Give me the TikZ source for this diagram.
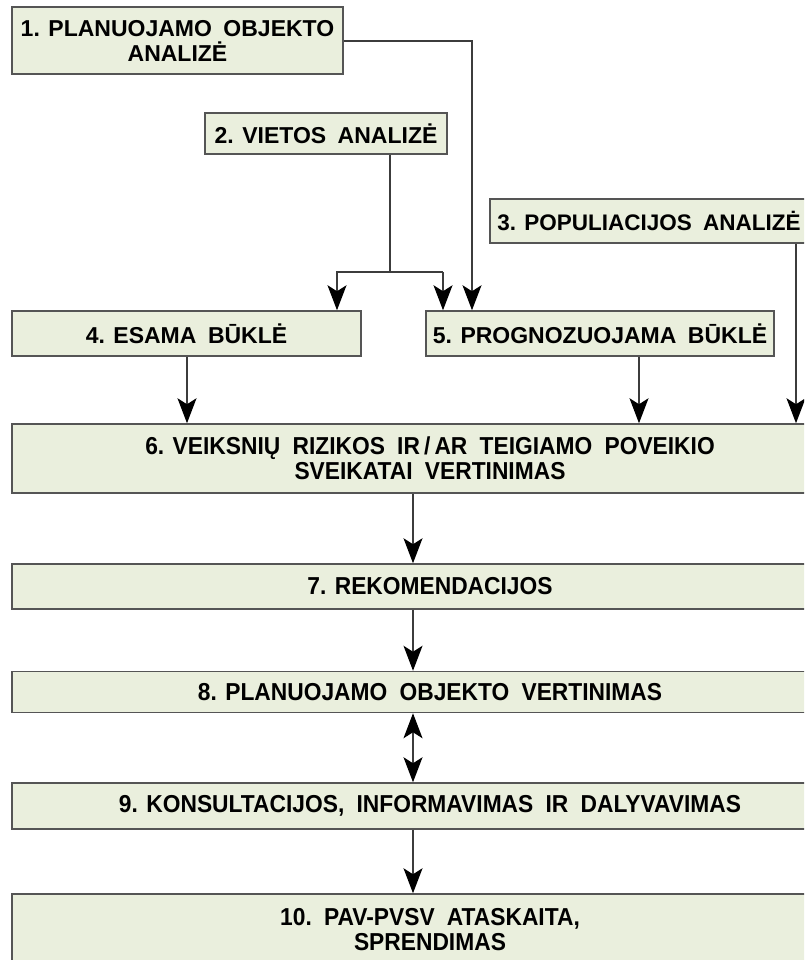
\documentclass[tikz,border=0pt]{standalone}
\usepackage{fontspec}
\setmainfont{Liberation Sans}
\newfontfamily\narrowsans[FakeStretch=0.93]{Liberation Sans}
\usetikzlibrary{arrows.meta,calc}
\definecolor{boxfill}{RGB}{234,239,221}
\definecolor{boxline}{RGB}{85,85,85}
\definecolor{conn}{RGB}{60,60,60}
\newcommand{\dsp}{\hspace{0.5em}}
\begin{document}
\begin{tikzpicture}[x=1pt,y=-1pt,
  box/.style={draw=boxline,fill=boxfill,line width=1.5pt,inner sep=0pt,
    font=\fontsize{23}{25}\selectfont\bfseries,align=center,text=black},
  lowbox/.style={box,font=\narrowsans\fontsize{24.5}{25}\selectfont\bfseries},
  conline/.style={draw=conn,line width=1.3pt},
  tip/.tip={Stealth[length=25pt,width=19pt,inset=6pt,color=black]},
  arr/.style={conline,-tip},
  darr/.style={conline,tip-tip}]
\useasboundingbox (0,0) rectangle (804,960);
\clip (0,0) rectangle (804,960);
\node[box,minimum width=331pt,minimum height=67pt] (b1) at (177.5,40.5) {1. PLANUOJAMO\dsp OBJEKTO\\ANALIZĖ};
\node[box,minimum width=242pt,minimum height=41pt] (b2) at (326,133.5) {2. VIETOS\dsp ANALIZĖ};
\node[box,minimum width=318pt,minimum height=44pt] (b3) at (649,221) {\fontsize{22.5}{25}\selectfont 3. POPULIACIJOS\dsp ANALIZĖ};
\node[box,minimum width=349pt,minimum height=45pt] (b4) at (186.5,333.5) {4. ESAMA\dsp BŪKLĖ};
\node[box,minimum width=348pt,minimum height=45pt] (b5) at (600,333.5) {5. PROGNOZUOJAMA\dsp BŪKLĖ};
\node[lowbox,minimum width=836pt,minimum height=69pt] (b6) at (430,458.5) {6. VEIKSNIŲ\dsp RIZIKOS\dsp IR\,/\,AR\dsp TEIGIAMO\dsp POVEIKIO\\SVEIKATAI\dsp VERTINIMAS};
\node[lowbox,minimum width=836pt,minimum height=45pt] (b7) at (430,586.5) {7. REKOMENDACIJOS};
\node[lowbox,minimum width=836pt,minimum height=41pt] (b8) at (430,692) {8. PLANUOJAMO\dsp OBJEKTO\dsp VERTINIMAS};
\node[lowbox,minimum width=836pt,minimum height=46pt] (b9) at (430,806) {9. KONSULTACIJOS,\dsp INFORMAVIMAS\dsp IR\dsp DALYVAVIMAS};
\node[lowbox,minimum width=836pt,minimum height=72pt] (b10) at (430,930) {10.\dsp PAV-PVSV\dsp ATASKAITA,\\SPRENDIMAS};
% connector coordinates
\coordinate (c1) at (472,41);
\coordinate (j2) at (390,272);
\coordinate (l4) at (337,272);
\coordinate (l5) at (443,272);
\coordinate (x3) at (796,0);
\coordinate (x4) at (187,0);
\coordinate (x5) at (639,0);
\coordinate (xm) at (413,0);
% connectors
\draw[arr] (b1.east |- c1) -- (c1) -- (c1 |- b5.north);
\draw[conline] (b2.south -| j2) -- (j2);
\draw[arr] (l5) -- (l4) -- (l4 |- b4.north);
\draw[arr] (l5) -- (l5 |- b5.north);
\draw[arr] (b3.south -| x3) -- (b6.north -| x3);
\draw[arr] (b4.south -| x4) -- (b6.north -| x4);
\draw[arr] (b5.south -| x5) -- (b6.north -| x5);
\draw[arr] (b6.south -| xm) -- (b7.north -| xm);
\draw[arr] (b7.south -| xm) -- (b8.north -| xm);
\draw[darr] (b8.south -| xm) -- (b9.north -| xm);
\draw[arr] (b9.south -| xm) -- (b10.north -| xm);
\end{tikzpicture}
\end{document}
